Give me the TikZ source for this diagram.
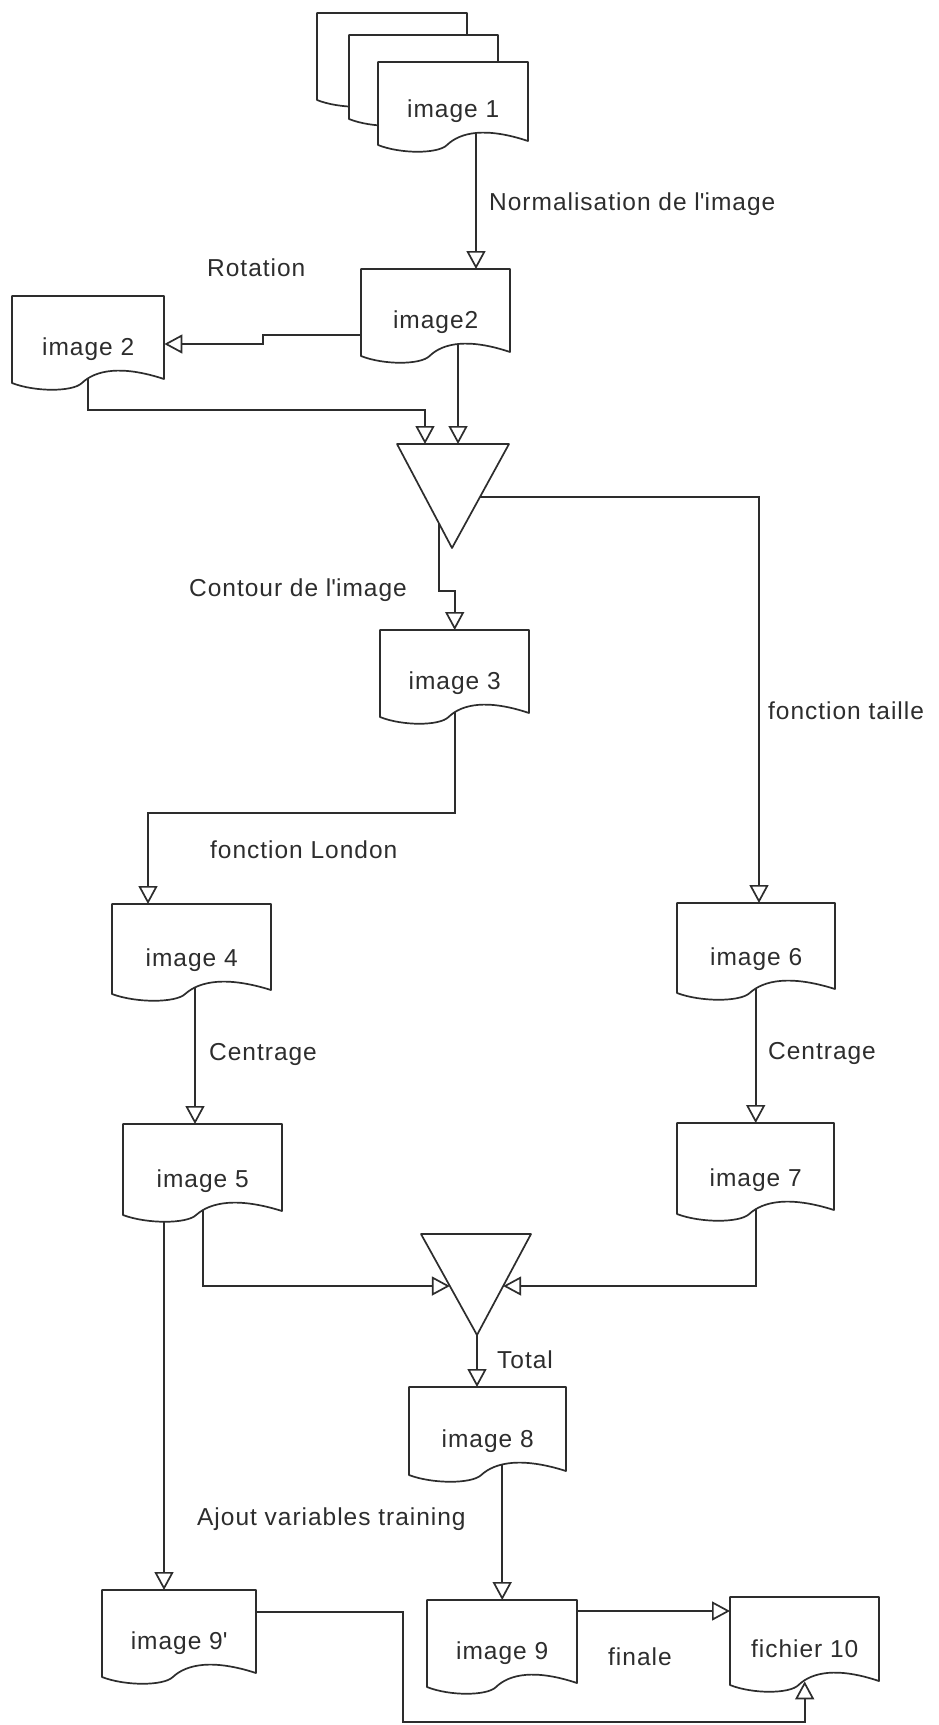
\documentclass[tikz,border=0pt]{standalone}
\usepackage{fontspec}
\setmainfont{Liberation Sans}[LetterSpace=4.0]
\usetikzlibrary{arrows.meta,calc}

\pgfdeclarelayer{sheet}
\pgfdeclarelayer{wires}
\pgfdeclarelayer{paper}
\pgfsetlayers{sheet,wires,paper,main}

\definecolor{ink}{RGB}{45,45,45}
\newcommand\chartfont{\fontsize{24.5}{28}\selectfont}

\tikzset{
  docline/.style={draw=ink, line width=1.7pt, line join=round},
  doctext/.style={inner xsep=0pt, inner ysep=0pt, text=ink, font=\chartfont, anchor=north west},
  conn/.style={draw=ink, line width=1.7pt, -{Triangle[open, length=18pt, width=19pt]}},
  lbl/.style={text=ink, font=\chartfont, inner sep=0pt},
}

% document outline: style, left, top, width, height (y grows downwards)
\newcommand\docsheet[5]{%
  \path[#1, shift={(#2,{#3+#5})}] (0,0) -- (0,-#5) -- (#4,-#5) -- (#4,-4)
    .. controls ({0.72*#4},-18) and ({0.55*#4},-13) .. ({0.46*#4},0)
    .. controls ({0.40*#4},9) and ({0.15*#4},9) .. (0,0) -- cycle;}

% named document node: name, left, top, width, height, text
\newcommand\docnode[6]{%
  \begin{pgfonlayer}{paper}\docsheet{fill=white}{#2}{#3}{#4}{#5}\end{pgfonlayer}
  \docsheet{docline}{#2}{#3}{#4}{#5}
  \pgfmathsetmacro\dochgt{#5-28}
  \node[doctext, minimum width=#4pt, minimum height=#5pt,
        text height=\dochgt pt, text depth=28pt] (#1) at (#2,#3) {#6};}

\begin{document}
\begin{tikzpicture}[x=1pt, y=-1pt]
\useasboundingbox (0,0) rectangle (938,1725);
\begin{pgfonlayer}{sheet}
  \fill[white] (0,0) rectangle (938,1725);
\end{pgfonlayer}

% stacked input images
\begin{pgfonlayer}{paper}
  \docsheet{docline, fill=white}{317}{13}{150}{87}
  \docsheet{docline, fill=white}{349}{35}{149}{84}
\end{pgfonlayer}
\docnode{img1}{378}{62}{150}{83}{image 1}
\docnode{img2}{361}{269}{149}{87}{image2}
\docnode{rot}{12}{296}{152}{87}{image 2}
\docnode{img3}{380}{630}{149}{87}{image 3}
\docnode{img4}{112}{904}{159}{90}{image 4}
\docnode{img5}{123}{1124}{159}{91}{image 5}
\docnode{img6}{677}{903}{158}{90}{image 6}
\docnode{img7}{677}{1123}{157}{91}{image 7}
\docnode{img8}{409}{1387}{157}{88}{image 8}
\docnode{img9}{427}{1600}{150}{87}{image 9}
\docnode{img9p}{102}{1590}{154}{87}{image 9\textquotesingle}
\docnode{f10}{730}{1597}{149}{88}{fichier 10}

% merge triangles
\coordinate (m1a) at (397,444);
\coordinate (m1b) at (509,444);
\coordinate (m1c) at (452,548);
\draw[docline, fill=white] (m1a) -- (m1b) -- (m1c) -- cycle;
\coordinate (m2a) at (421,1234);
\coordinate (m2b) at (531,1234);
\coordinate (m2c) at (477,1335);
\draw[docline, fill=white] (m2a) -- (m2b) -- (m2c) -- cycle;

% bends and ports
\coordinate (k1) at (476,200);
\coordinate (rj1) at (263,335);
\coordinate (rj2) at (263,344);
\coordinate (rb) at (425,410);
\coordinate (m1in1) at ($(m1a)!0.25!(m1b)$);
\coordinate (m1in2) at ($(m1a)!0.545!(m1b)$);
\coordinate (m1l) at ($(m1a)!0.764!(m1c)$);
\coordinate (m1r) at ($(m1b)!0.51!(m1c)$);
\coordinate (cb) at (455,591);
\coordinate (fc) at (759,497);
\coordinate (ga) at (148,813);
\coordinate (k4) at (195,1000);
\coordinate (m2l) at ($(m2a)!0.515!(m2c)$);
\coordinate (m2r) at ($(m2b)!0.515!(m2c)$);
\coordinate (k5) at (164,1300);
\coordinate (oy) at (650,1611);
\coordinate (pa) at (403,1612);
\coordinate (pb) at (0,1722);

\begin{pgfonlayer}{wires}
  \draw[conn] (img1.center -| k1) -- (k1 |- img2.north);
  \draw[conn] (img2.west |- rj1) -- (rj1) -- (rj2) -- (rot.east |- rj2);
  \draw[conn] (rot.center) |- (rb) -- (m1in1);
  \draw[conn] (img2.center -| m1in2) -- (m1in2);
  \draw[conn] (m1l) |- (img3.north |- cb) -- (img3.north);
  \draw[conn] (m1r) -- (fc) -- (fc |- img6.north);
  \draw[conn] (img3.center) |- (ga) -- (ga |- img4.north);
  \draw[conn] (img4.center -| k4) -- (k4 |- img5.north);
  \draw[conn] (img6.center -| img7.north) -- (img7.north);
  \draw[conn] (img5.center) |- (m2l);
  \draw[conn] (img7.center) |- (m2r);
  \draw[conn] (m2c) -- (m2c |- img8.north);
  \draw[conn] (img8.center -| img9.north) -- (img9.north);
  \draw[conn] (img5.center -| k5) -- (k5 |- img9p.north);
  \draw[conn] (img9.east |- oy) -- (f10.west |- oy);
  \draw[conn] (img9p.east |- pa) -- (pa) |- (f10.south |- pb) -- ([yshift=4pt]f10.south);
\end{pgfonlayer}

% step labels
\node[lbl, anchor=base west] (tnorm) at (489,210) {Normalisation de l\textquotesingle image};
\node[lbl, anchor=base west] (trot) at (207,276) {Rotation};
\node[lbl, anchor=base east] (tcont) at (407,596) {Contour de l\textquotesingle image};
\node[lbl, anchor=base west] (ttaille) at (768,719) {fonction taille};
\node[lbl, anchor=base west] (tlondon) at (210,858) {fonction London};
\node[lbl, anchor=base west] (tcent1) at (209,1060) {Centrage};
\node[lbl, anchor=base west] (tcent2) at (768,1059) {Centrage};
\node[lbl, anchor=base west] (ttotal) at (497,1368) {Total};
\node[lbl, anchor=base west] (tajout) at (197,1525) {Ajout variables training};
\node[lbl, anchor=base west] (tfin) at (608,1665) {finale};
\end{tikzpicture}
\end{document}
